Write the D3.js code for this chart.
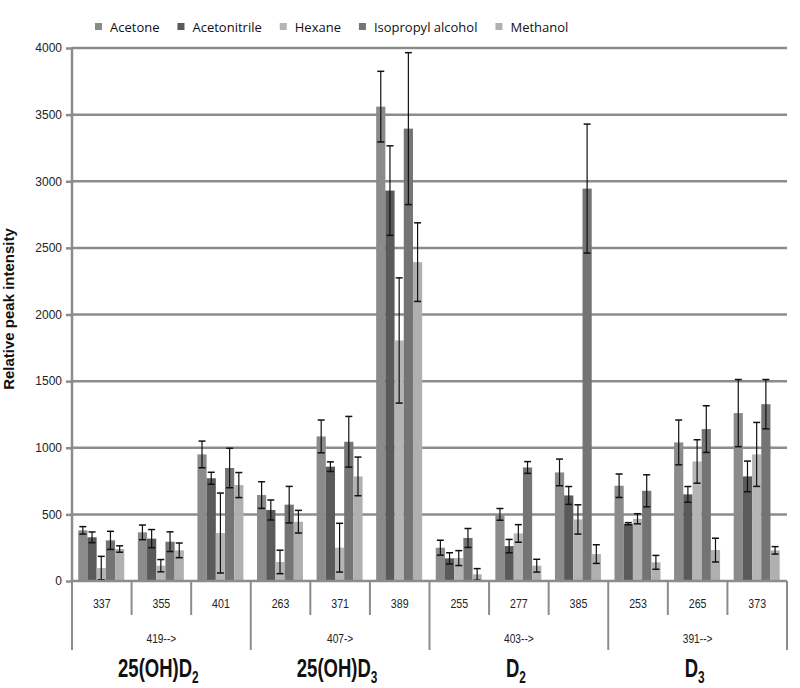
<!DOCTYPE html>
<html>
<head>
<meta charset="utf-8">
<script src="https://cdn.jsdelivr.net/npm/d3@7"></script>
<style>
body { margin: 0; background: #fff; }
svg { display: block; }
</style>
</head>
<body>
<script>
// data
var ions = ["337", "355", "401", "263", "371", "389", "255", "277", "385", "253", "265", "373"];
var parents = ["419-->", "407->", "403-->", "391-->"];
var compounds = [["25(OH)D", "2"], ["25(OH)D", "3"], ["D", "2"], ["D", "3"]];
var solvents = ["Acetone", "Acetonitrile", "Hexane", "Isopropyl alcohol", "Methanol"];
var colors = ["#8b8b8b", "#5a5a5a", "#b5b5b5", "#747474", "#b0b0b0"];

var acetone = [380, 365, 950, 645, 1085, 3560, 250, 500, 815, 715, 1040, 1260];
var acetoneErr = [28, 55, 100, 100, 123, 265, 56, 44, 100, 88, 168, 252];
var acetonitrile = [328, 318, 771, 533, 858, 2930, 170, 262, 642, 430, 650, 785];
var acetonitrileErr = [40, 68, 45, 75, 36, 336, 42, 50, 67, 8, 59, 115];
var hexane = [97, 115, 360, 143, 250, 1805, 172, 357, 462, 467, 897, 950];
var hexaneErr = [88, 46, 300, 88, 183, 470, 56, 66, 110, 38, 163, 240];
var isopropyl = [305, 295, 848, 573, 1045, 3395, 323, 852, 2945, 677, 1140, 1327];
var isopropylErr = [68, 74, 148, 137, 190, 570, 71, 44, 484, 120, 175, 185];
var methanol = [240, 230, 720, 445, 785, 2393, 50, 115, 202, 140, 232, 230];
var methanolErr = [24, 55, 94, 85, 145, 295, 43, 48, 70, 52, 89, 28];

var yTicks = [0, 500, 1000, 1500, 2000, 2500, 3000, 3500, 4000];

var values = [acetone, acetonitrile, hexane, isopropyl, methanol];
var errors = [acetoneErr, acetonitrileErr, hexaneErr, isopropylErr, methanolErr];

var W = 800, H = 688;
var pLeft = 72, pRight = 787, pTop = 48, pBottom = 581;
var gridColor = "#8c8c8c";
var narrow = "Liberation Sans Narrow, Liberation Sans, sans-serif";

var svg = d3.select("body").append("svg").attr("width", W).attr("height", H);

var x0 = d3.scaleBand().domain(d3.range(ions.length)).range([pLeft, pRight]).padding(0);
var bw = x0.bandwidth();
var x1 = d3.scaleBand().domain(d3.range(solvents.length)).range([bw * 0.105, bw * 0.877]).padding(0);
var y = d3.scaleLinear().domain([0, 4000]).range([pBottom, pTop]);

// grid
svg.append("g").selectAll("line").data(yTicks.slice(1)).enter().append("line")
    .attr("x1", pLeft).attr("x2", pRight)
    .attr("y1", function(d) { return y(d); }).attr("y2", function(d) { return y(d); })
    .attr("stroke", gridColor).attr("stroke-width", 2.5);

// y axis
var yAxis = svg.append("g").attr("transform", "translate(" + pLeft + ",0)")
    .call(d3.axisLeft(y).tickValues(yTicks).tickSize(6).tickPadding(4).tickFormat(d3.format("d")));
yAxis.select(".domain").remove();
yAxis.selectAll(".tick line").attr("stroke", gridColor).attr("stroke-width", 2.5);
yAxis.selectAll("text").attr("font-family", "Liberation Sans, Arial, sans-serif")
    .attr("font-size", 12).attr("fill", "#222");
svg.append("line").attr("x1", pLeft).attr("x2", pLeft).attr("y1", pTop - 1).attr("y2", pBottom)
    .attr("stroke", gridColor).attr("stroke-width", 2.5);

svg.append("text")
    .attr("transform", "translate(14,309) rotate(-90)")
    .attr("text-anchor", "middle")
    .attr("font-family", "Liberation Sans, Arial, sans-serif")
    .attr("font-weight", "bold").attr("font-size", 15).attr("fill", "#111")
    .text("Relative peak intensity");

// bars
for (var s = 0; s < solvents.length; s++) {
    var g = svg.append("g");
    for (var i = 0; i < ions.length; i++) {
        var v = values[s][i], e = errors[s][i];
        var bx = x0(i) + x1(s);
        g.append("rect")
            .attr("x", bx).attr("y", y(v))
            .attr("width", x1.bandwidth()).attr("height", y(0) - y(v))
            .attr("fill", colors[s]);
        var cx = bx + x1.bandwidth() / 2;
        var lo = Math.max(0, v - e);
        g.append("line").attr("x1", cx).attr("x2", cx).attr("y1", y(v + e)).attr("y2", y(lo))
            .attr("stroke", "#111").attr("stroke-width", 1.2);
        g.append("line").attr("x1", cx - 3.5).attr("x2", cx + 3.5).attr("y1", y(v + e)).attr("y2", y(v + e))
            .attr("stroke", "#111").attr("stroke-width", 1.5);
        g.append("line").attr("x1", cx - 3.5).attr("x2", cx + 3.5).attr("y1", y(lo)).attr("y2", y(lo))
            .attr("stroke", "#111").attr("stroke-width", 1.5);
    }
}

// category axis
svg.append("line").attr("x1", pLeft).attr("x2", pRight).attr("y1", pBottom).attr("y2", pBottom)
    .attr("stroke", gridColor).attr("stroke-width", 2.5);
for (var k = 0; k <= ions.length; k++) {
    var bxk = pLeft + k * bw;
    svg.append("line").attr("x1", bxk).attr("x2", bxk).attr("y1", pBottom)
        .attr("y2", k % 3 === 0 ? 650 : 615)
        .attr("stroke", gridColor).attr("stroke-width", 2);
}
svg.append("g").selectAll("text").data(ions).enter().append("text")
    .attr("transform", function(d, i) { return "translate(" + (x0(i) + bw / 2) + ",608) scale(0.85,1)"; })
    .attr("text-anchor", "middle")
    .attr("font-family", narrow)
    .attr("font-size", 12.5).attr("fill", "#222")
    .text(function(d) { return d; });
svg.append("g").selectAll("text").data(parents).enter().append("text")
    .attr("transform", function(d, i) { return "translate(" + (pLeft + (i * 3 + 1.5) * bw) + ",643) scale(0.85,1)"; })
    .attr("text-anchor", "middle")
    .attr("font-family", narrow)
    .attr("font-size", 12).attr("fill", "#222")
    .text(function(d) { return d; });
var big = svg.append("g").selectAll("text").data(compounds).enter().append("text")
    .attr("transform", function(d, i) { return "translate(" + (pLeft + (i * 3 + 1.5) * bw - 3) + ",677) scale(0.74,1)"; })
    .attr("text-anchor", "middle")
    .attr("font-family", narrow)
    .attr("font-weight", "bold").attr("font-size", 25).attr("fill", "#111");
big.append("tspan").text(function(d) { return d[0]; });
big.append("tspan").attr("dy", 6).attr("font-size", 16).text(function(d) { return d[1]; });

// legend
var lx = 95;
for (var j = 0; j < solvents.length; j++) {
    svg.append("rect").attr("x", lx).attr("y", 23).attr("width", 7).attr("height", 7).attr("fill", colors[j]);
    var t = svg.append("text").attr("x", lx + 15).attr("y", 31.5)
        .attr("font-family", "Open Sans, sans-serif").attr("font-size", 13).attr("fill", "#111")
        .text(solvents[j]);
    lx = lx + 15 + t.node().getComputedTextLength() + 18;
}
</script>
</body>
</html>
